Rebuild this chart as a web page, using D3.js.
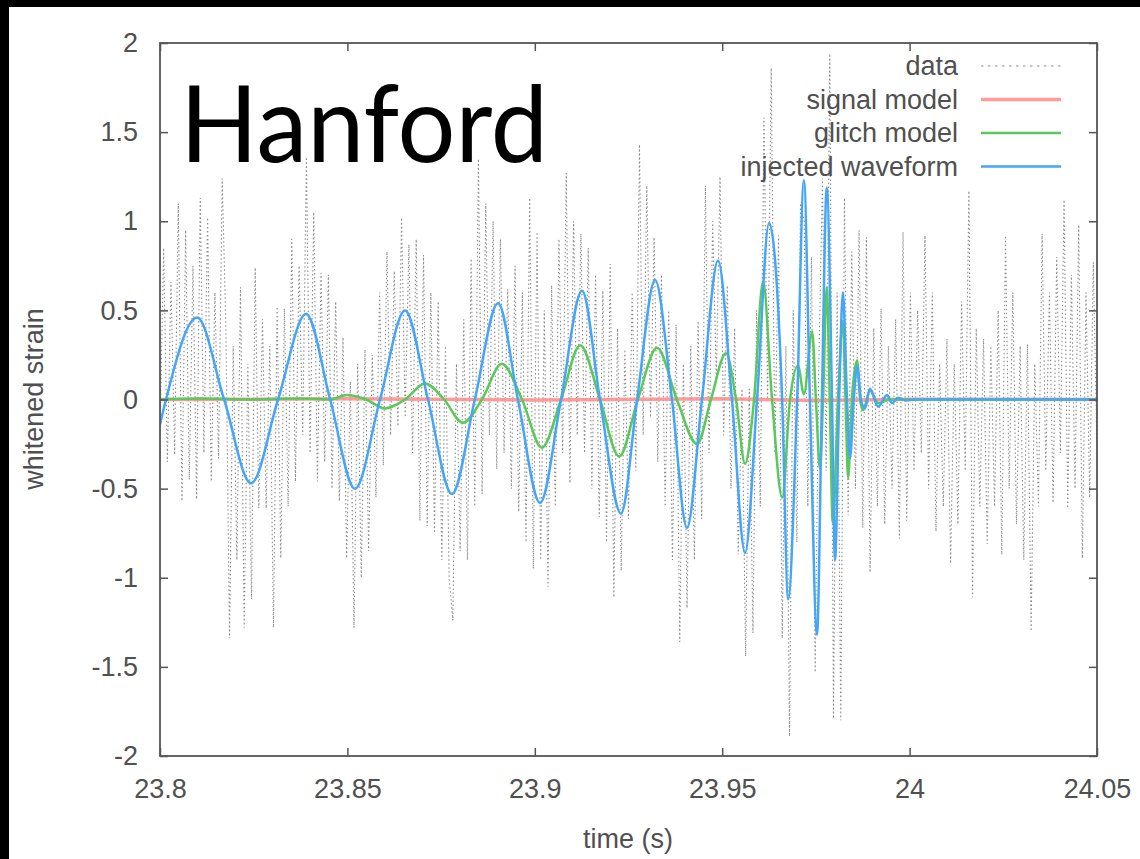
<!DOCTYPE html>
<html lang="en">
<head>
<meta charset="UTF-8">
<title>Hanford - whitened strain</title>
<script src="https://d3js.org/d3.v7.min.js"></script>
<style>
  body { margin: 0; background: #fff; }
  svg { display: block; }
  .tick text { font-family: "Liberation Sans", Arial, sans-serif; font-size: 27px; fill: #505050; }
  .tick line { stroke: #555; stroke-width: 1.5; }
</style>
</head>
<body>
<div id="chart"></div>
<script>
// axis ticks
var xTicks = [23.8, 23.85, 23.9, 23.95, 24.0, 24.05];
var xTickLabels = ["23.8", "23.85", "23.9", "23.95", "24", "24.05"];
var yTicks = [-2, -1.5, -1, -0.5, 0, 0.5, 1, 1.5, 2];
var yTickLabels = ["-2", "-1.5", "-1", "-0.5", "0", "0.5", "1", "1.5", "2"];

// whitened data, sampled at 1024 Hz starting at 23.8 s
var dataStart = 23.8;
var dataRate = 1024;
var dataValues = [
  -0.2, 0.85, -0.35, 0.66, -0.31, 1.10, -0.57, 0.95, -0.45, 0.75, -0.56, 1.13, -0.3, 1.02, -0.46, 0.6,
  -0.33, 1.24, 0.4, -1.34, 0.3, -0.9, 0.63, -1.28, 0.2, -1.12, 0.74, -0.61, 0.45, -0.61, 0.3, -1.28,
  0.52, -0.89, 0.51, -0.6, 0.9, -0.46, 0.75, -0.2, 1.36, -0.3, 1.05, -0.46, 0.71, -0.35, 0.7, -0.5,
  0.55, -0.57, 0.35, -0.89, 0.1, -1.28, 0.2, -1.0, 0.28, -0.85, 0.25, -0.55, 0.6, -0.37, 0.83, -0.2,
  0.72, -0.15, 1.02, -0.1, 0.87, -0.3, 0.9, -0.68, 0.81, -0.71, 0.6, -0.75, 0.55, -0.9, 0.3, -1.0,
  -1.24, 0.2, -0.85, 0.45, -0.9, 0.79, -0.6, 1.35, -0.53, 1.1, -0.2, 1.0, -0.39, 0.9, -0.3, 0.62,
  -0.5, 0.75, -0.63, 0.6, -0.8, 1.13, -0.95, 0.94, -0.9, 0.5, -1.05, 0.64, -0.6, 0.9, -0.3, 1.27,
  -0.47, 1.0, -0.2, 0.93, -0.3, 0.85, -0.5, 0.7, -0.66, 0.61, -0.8, 0.76, -1.11, 0.4, -0.96, 0.28,
  -0.67, 0.6, -0.4, 1.43, -0.2, 1.2, -0.1, 0.91, -0.35, 0.7, -0.6, 0.5, -0.9, 0.42, -1.36, 0.2,
  -1.17, 0.3, -0.9, 0.44, -0.67, 1.2, -0.3, 1.0, 0.1, 1.25, -0.2, 0.64, -0.5, 0.4, -0.87, 0.06,
  -1.44, 0.06, -1.31, 0.5, -0.6, 1.58, 0.0, 1.86, -0.3, 0.92, -1.34, 0.3, -1.89, 0.5, -0.8, 1.1,
  1.0, -0.6, 0.8, -1.53, 0.2, 1.24, -0.4, 1.94, -1.79, 0.6, -1.8, 1.13, -0.65, 0.83, -0.5, 0.95,
  -0.72, 0.91, -0.97, 0.4, -0.6, 0.51, -0.7, 0.3, -0.5, 0.45, -0.78, 0.94, -0.68, 0.6, -0.4, 0.5,
  -0.3, 0.92, -0.5, 0.6, -0.74, 0.2, -0.6, 0.34, -0.92, 0.2, -0.7, 0.55, -0.4, 1.17, -1.11, 0.4,
  -0.6, 0.34, -0.81, 0.3, -0.6, 0.5, -0.87, 0.92, -0.5, 0.6, -0.7, 0.3, -0.9, 0.31, -1.3, 0.2,
  -0.6, 0.93, -0.4, 0.6, -0.58, 0.8, -0.3, 1.12, -0.61, 0.7, -0.5, 0.98, -0.89, 0.6, -0.55, 0.77,
  -0.3
];

// signal model (flat)
var signalTime = [23.8, 23.85, 23.9, 23.95, 23.975, 24.0, 24.05];
var signalValue = [0.0, 0.004, -0.003, 0.004, -0.005, 0.002, 0.0];

// glitch model, extrema and crossings
var glitchTime = [23.8, 23.8107, 23.824, 23.8374, 23.8454, 23.8499, 23.855, 23.86, 23.8654, 23.8707,
  23.8758, 23.8808, 23.8859, 23.8912, 23.8966, 23.9019, 23.907, 23.9121, 23.9174, 23.9225,
  23.9275, 23.9326, 23.9379, 23.9433, 23.947, 23.951, 23.9537, 23.9561, 23.9585, 23.9609,
  23.9633, 23.966, 23.9681, 23.9702, 23.9718, 23.974, 23.975, 23.9761, 23.9769, 23.9779,
  23.9787, 23.9795, 23.9809, 23.9822, 23.9829, 23.9836, 23.9846, 23.986, 23.9868, 23.9876,
  23.9894, 23.9916, 23.9948, 24.05];
var glitchValue = [0, 0.005, 0, 0.005, 0, 0.025, 0, -0.05, 0, 0.09,
  0, -0.13, 0, 0.2, 0, -0.27, 0, 0.305, 0, -0.32,
  0, 0.29, 0, -0.25, 0, 0.26, 0, -0.36, 0, 0.66,
  0, -0.55, 0, 0.19, 0.03, 0.38, 0, -0.39, 0, 0.63,
  0, -0.69, 0, 0.44, 0, -0.44, 0, 0.22, 0, -0.06,
  0.05, -0.02, 0, 0];

// injected waveform, extrema and crossings
var injectedTime = [23.8, 23.8016, 23.8099, 23.8171, 23.8243, 23.8315, 23.839, 23.8454, 23.852, 23.8587,
  23.8654, 23.8715, 23.8779, 23.884, 23.8902, 23.8955, 23.9014, 23.907, 23.9126, 23.9174,
  23.923, 23.9273, 23.9321, 23.9366, 23.9406, 23.9446, 23.9489, 23.9526, 23.9561, 23.9593,
  23.9625, 23.966, 23.9676, 23.97, 23.9718, 23.9734, 23.9753, 23.9766, 23.9779, 23.9793,
  23.9801, 23.9812, 23.9822, 23.9833, 23.9841, 23.9851, 23.986, 23.987, 23.9881, 23.9894,
  23.9916, 23.994, 23.9953, 23.9969, 23.999, 24.0014, 24.05];
var injectedValue = [-0.14, 0, 0.46, 0, -0.47, 0, 0.48, 0, -0.5, 0,
  0.5, 0, -0.53, 0, 0.54, 0, -0.58, 0, 0.61, 0,
  -0.64, 0, 0.67, 0, -0.72, 0, 0.78, 0, -0.86, 0,
  0.99, 0, -1.12, 0, 1.23, 0, -1.32, 0, 1.19, 0,
  -0.9, 0, 0.6, 0, -0.33, 0, 0.19, 0, -0.05, 0.06,
  -0.04, 0.025, -0.02, 0.01, -0.005, 0, 0];

var seriesNames = ["data", "signal model", "glitch model", "injected waveform"];
var seriesColors = ["#8c8c8c", "#ff8a8a", "#5ac85a", "#45a6f7"];

var W = 1140, H = 859;
var svg = d3.select("#chart").append("svg").attr("width", W).attr("height", H);

// black slide edges
svg.append("rect").attr("x", 0).attr("y", 0).attr("width", 9).attr("height", H).attr("fill", "#000");
svg.append("rect").attr("x", 0).attr("y", 0).attr("width", W).attr("height", 7).attr("fill", "#000");

var x = d3.scaleLinear().domain([23.8, 24.05]).range([160, 1097]);
var y = d3.scaleLinear().domain([-2, 2]).range([756, 43]);

svg.append("clipPath").attr("id", "plotclip").append("rect")
  .attr("x", 160).attr("y", 43).attr("width", 937).attr("height", 713);

var plot = svg.append("g").attr("clip-path", "url(#plotclip)");

var dataPts = dataValues.map(function(v, i) { return [dataStart + i / dataRate, v]; });
var signalPts = signalTime.map(function(t, i) { return [t, signalValue[i]]; });
var glitchPts = glitchTime.map(function(t, i) { return [t, glitchValue[i]]; });
var injectedPts = injectedTime.map(function(t, i) { return [t, injectedValue[i]]; });

var lin = d3.line().x(function(d) { return x(d[0]); }).y(function(d) { return y(d[1]); });
var smooth = d3.line().curve(d3.curveMonotoneX).x(function(d) { return x(d[0]); }).y(function(d) { return y(d[1]); });

plot.append("path").attr("d", lin(dataPts)).attr("fill", "none")
  .attr("stroke", seriesColors[0]).attr("stroke-width", 1.1).attr("stroke-dasharray", "1.5,2.5");
plot.append("path").attr("d", lin(signalPts)).attr("fill", "none")
  .attr("stroke", seriesColors[1]).attr("stroke-width", 3.5).attr("stroke-opacity", 0.85);
plot.append("path").attr("d", smooth(glitchPts)).attr("fill", "none")
  .attr("stroke", seriesColors[2]).attr("stroke-width", 2.5);
plot.append("path").attr("d", smooth(injectedPts)).attr("fill", "none")
  .attr("stroke", seriesColors[3]).attr("stroke-width", 2.5);

// axes
svg.append("g").attr("transform", "translate(160,0)")
  .call(d3.axisLeft(y).tickValues(yTicks).tickSize(-8).tickSizeOuter(0).tickPadding(22)
    .tickFormat(function(d, i) { return yTickLabels[i]; }))
  .call(function(g) { g.select(".domain").remove(); });
svg.append("g").attr("transform", "translate(1097,0)")
  .call(d3.axisRight(y).tickValues(yTicks).tickSize(-8).tickSizeOuter(0).tickFormat(""))
  .call(function(g) { g.select(".domain").remove(); });
svg.append("g").attr("transform", "translate(0,756)")
  .call(d3.axisBottom(x).tickValues(xTicks).tickSize(-8).tickSizeOuter(0).tickPadding(23)
    .tickFormat(function(d, i) { return xTickLabels[i]; }))
  .call(function(g) { g.select(".domain").remove(); });
svg.append("g").attr("transform", "translate(0,43)")
  .call(d3.axisTop(x).tickValues(xTicks).tickSize(-8).tickSizeOuter(0).tickFormat(""))
  .call(function(g) { g.select(".domain").remove(); });

svg.append("rect").attr("x", 160).attr("y", 43).attr("width", 937).attr("height", 713)
  .attr("fill", "none").attr("stroke", "#555").attr("stroke-width", 1.8);

// axis titles
svg.append("text").attr("x", 628).attr("y", 848).attr("text-anchor", "middle")
  .style("font-family", "'Liberation Sans', Arial, sans-serif").style("font-size", "27px").attr("fill", "#505050")
  .text("time (s)");
svg.append("text").attr("transform", "translate(43,399) rotate(-90)").attr("text-anchor", "middle")
  .style("font-family", "'Liberation Sans', Arial, sans-serif").style("font-size", "27px").attr("fill", "#505050")
  .text("whitened strain");

// legend
var legend = svg.append("g");
seriesNames.forEach(function(name, i) {
  var ly = 66 + i * 33.5;
  legend.append("text").attr("x", 958).attr("y", ly + 9).attr("text-anchor", "end")
    .style("font-family", "'Liberation Sans', Arial, sans-serif").style("font-size", "27px").attr("fill", "#505050")
    .text(name);
  var l = legend.append("line").attr("x1", 981).attr("x2", 1061).attr("y1", ly).attr("y2", ly)
    .attr("stroke", seriesColors[i]);
  if (i === 0) l.attr("stroke-width", 1.1).attr("stroke-dasharray", "2.5,4.5");
  else if (i === 1) l.attr("stroke-width", 3.5).attr("stroke-opacity", 0.85);
  else l.attr("stroke-width", 2.5);
});

// detector name
svg.append("text").attr("x", 180).attr("y", 162)
  .style("font-family", "Lato, 'Open Sans', sans-serif").style("font-size", "107px").attr("fill", "#000")
  .attr("textLength", 368).attr("lengthAdjust", "spacingAndGlyphs")
  .text("Hanford");
</script>
</body>
</html>
